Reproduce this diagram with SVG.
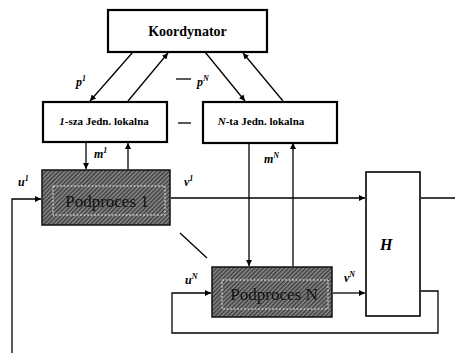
<svg xmlns="http://www.w3.org/2000/svg" width="455" height="353" viewBox="0 0 455 353">
<style>
.box{fill:#fff;stroke:#000;stroke-width:2.2}
.proc{fill:url(#hatch);stroke:#111;stroke-width:1.5}
.inner{fill:none;stroke:#e8e8e8;stroke-width:1;stroke-dasharray:2,1.5}
.ln{fill:none;stroke:#000;stroke-width:1.3}
.arr{marker-end:url(#ah)}
.t{font-family:"Liberation Serif",serif;font-weight:bold;fill:#000}
.lab{font-family:"Liberation Serif",serif;font-weight:bold;font-style:italic;font-size:12px;fill:#000}
.sup{font-size:8px}
.ptxt{font-family:"Liberation Serif",serif;font-size:17px;fill:#111}
</style>
<defs>
<pattern id="hatch" width="3" height="3" patternUnits="userSpaceOnUse" patternTransform="rotate(45)">
<rect width="3" height="3" fill="#8a8a8a"/>
<rect width="1.4" height="3" fill="#3a3a3a"/>
</pattern>
<marker id="ah" viewBox="0 0 10 10" refX="10" refY="5" markerWidth="6" markerHeight="6" orient="auto" markerUnits="userSpaceOnUse">
<path d="M0,0 L10,5 L0,10 z" fill="#000"/>
</marker>
</defs>

<g id="connectors">
<line class="ln arr" x1="133" y1="52" x2="90" y2="101"/>
<line class="ln arr" x1="128" y1="101" x2="168" y2="53"/>
<line class="ln arr" x1="205" y1="52" x2="245" y2="101"/>
<line class="ln arr" x1="283" y1="101" x2="243" y2="53"/>
<line class="ln" x1="176" y1="79" x2="191" y2="79"/>
<line class="ln" x1="178" y1="123" x2="191" y2="123"/>
<line class="ln arr" x1="86" y1="143" x2="86" y2="169"/>
<line class="ln arr" x1="128" y1="169" x2="128" y2="143"/>
<line class="ln arr" x1="249" y1="143" x2="249" y2="266"/>
<line class="ln arr" x1="293" y1="266" x2="293" y2="143"/>
<polyline class="ln arr" points="12,353 12,199 41,199"/>
<line class="ln arr" x1="171" y1="198" x2="365" y2="198"/>
<line class="ln" x1="421" y1="198" x2="455" y2="198"/>
<line class="ln arr" x1="333" y1="293" x2="365" y2="293"/>
<polyline class="ln arr" points="421,291 438,291 438,333 172,333 172,293 211,293"/>
<line class="ln" x1="180" y1="233" x2="207" y2="258"/>
</g>

<g id="koordynator">
<rect class="box" x="108" y="10" width="159" height="42"/>
<text class="t" x="187.5" y="36" style="font-size:14px" text-anchor="middle">Koordynator</text>
</g>

<g id="lokalna1">
<rect class="box" x="43" y="102" width="124" height="40"/>
<text class="t" x="104" y="125" style="font-size:11px" text-anchor="middle"><tspan font-style="italic">1</tspan>-sza Jedn. lokalna</text>
</g>

<g id="lokalnaN">
<rect class="box" x="203" y="102" width="134" height="41"/>
<text class="t" x="261" y="125" style="font-size:11px" text-anchor="middle"><tspan font-style="italic">N</tspan>-ta Jedn. lokalna</text>
</g>

<g id="podproces1">
<rect class="proc" x="42" y="170" width="128" height="55"/>
<rect class="inner" x="53" y="186" width="112" height="29"/>
<text class="ptxt" x="107" y="207" text-anchor="middle">Podproces 1</text>
</g>

<g id="podprocesN">
<rect class="proc" x="212" y="267" width="120" height="50"/>
<rect class="inner" x="222" y="280" width="106" height="29"/>
<text class="ptxt" x="274" y="300" text-anchor="middle">Podproces N</text>
</g>

<g id="H">
<rect class="box" x="366" y="172" width="54" height="144" style="stroke-width:1.6"/>
<text class="lab" x="380" y="250" style="font-size:16px">H</text>
</g>

<g id="labels">
<text class="lab" x="76" y="86">p<tspan class="sup" dy="-5">1</tspan></text>
<text class="lab" x="197" y="86">p<tspan class="sup" dy="-5">N</tspan></text>
<text class="lab" x="94" y="158">m<tspan class="sup" dy="-5">1</tspan></text>
<text class="lab" x="264" y="163">m<tspan class="sup" dy="-5">N</tspan></text>
<text class="lab" x="18" y="186">u<tspan class="sup" dy="-5">1</tspan></text>
<text class="lab" x="184" y="186">v<tspan class="sup" dy="-5">1</tspan></text>
<text class="lab" x="185" y="284">u<tspan class="sup" dy="-5">N</tspan></text>
<text class="lab" x="344" y="282">v<tspan class="sup" dy="-5">N</tspan></text>
</g>
</svg>
